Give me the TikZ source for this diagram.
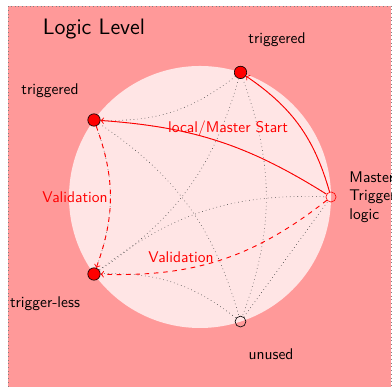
\documentclass[tikz,border=0pt]{standalone}
\usepackage{amsmath}
\usepackage{tikz}

\begin{document}
\begin{tikzpicture}[x=0.645pt,y=0.645pt]
        \tikzstyle{every node} = [font=\sffamily]
        \tikzstyle{trig} = [circle, draw=black, fill=red, inner sep=0pt, minimum size=8pt]
        \tikzstyle{master} = [circle, draw=red, inner sep=0pt, minimum size=6.5pt]
        \tikzstyle{spare} = [circle, draw=black, inner sep=0pt, minimum size=7pt]
        \tikzstyle{link} = [dotted, black!70]
        \tikzstyle{signal} = [red, line width=0.6pt, ->]
        \useasboundingbox (0,0) rectangle (392,387);
        \fill[red!40] (8,-3) rectangle (391,381);
        \draw[dotted, gray] (8,-3) rectangle (391,381);
        \fill[red!10] (200,190) circle (84.5pt);
        \node at (94,358) {\Large Logic Level};

        % the five levels on the ring
        \node[trig] (t) at (240.5,314.6) {};
        \node[trig] (ul) at (94,267) {};
        \node[trig] (ll) at (94,113) {};
        \node[spare] (b) at (240.5,65.4) {};
        \node[master] (r) at (331,190) {};

        \node at (277,347) {triggered};
        \node at (50,296) {triggered};
        \node at (45,83) {trigger-less};
        \node at (271,33) {unused};
        \node[anchor=west, align=left] at (344,190) {Master\\Trigger\\logic};

        \foreach \from/\to in {t/ul, t/ll, t/b, t/r, ul/ll, ul/b, ll/b, ll/r}
            \draw[link] (\from) to[bend left=20] (\to);
        \draw[link] (ul) to[bend left=14] (r);
        \draw[link] (b) -- (r);

        \draw[signal] (r) to[bend right=14] (ul);
        \draw[signal] (r) to[bend right=20] (t);
        \draw[signal, dashed] (ul) to[bend left=20] (ll);
        \draw[signal, dashed] (r) to[bend left=20] (ll);

        \node[red] at (228,258) {local/Master Start};
        \node[red] at (75,190) {Validation};
        \node[red] at (181,130) {Validation};
    \end{tikzpicture}
\end{document}
